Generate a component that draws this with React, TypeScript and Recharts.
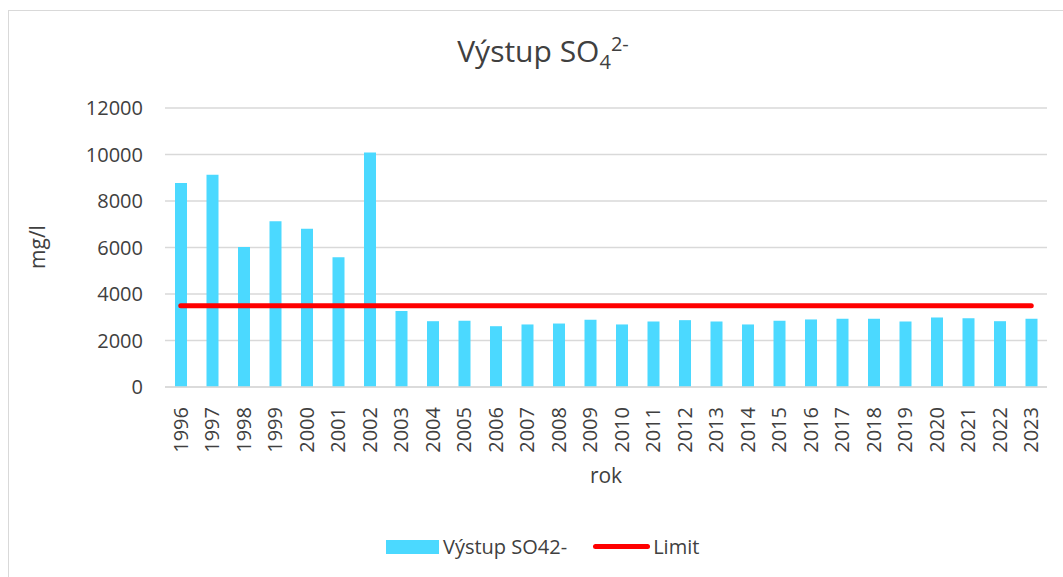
import React from 'react';
import { ComposedChart, Bar, Line, XAxis, YAxis, CartesianGrid } from 'recharts';

const years = ['1996','1997','1998','1999','2000','2001','2002','2003','2004','2005','2006','2007','2008','2009','2010','2011','2012','2013','2014','2015','2016','2017','2018','2019','2020','2021','2022','2023'];
const vystup = [8770, 9130, 6020, 7130, 6810, 5580, 10090, 3270, 2830, 2845, 2615, 2690, 2730, 2890, 2690, 2820, 2875, 2820, 2690, 2845, 2905, 2935, 2935, 2820, 2990, 2960, 2830, 2935];
const limitValue = 3500;
const yTicks = [0, 2000, 4000, 6000, 8000, 10000, 12000];

const data = years.map((y, i) => ({ rok: y, vystup: vystup[i], limit: limitValue }));

const FONT = '"Open Sans", "Noto Sans", sans-serif';
const TXT = '#404040';

const XTick = (props: any) => {
  const { x, y, payload } = props;
  return (
    <text x={x} y={y} transform={`rotate(-90, ${x}, ${y})`} textAnchor="end" dy="0.35em"
      fill={TXT} fontSize={20} fontFamily={FONT}>{payload.value}</text>
  );
};

export default function App() {
  return (
    <div style={{ position: 'fixed', left: 0, top: 0, width: 1063, height: 577, overflow: 'hidden', background: '#fff' }}>
      <div style={{ position: 'absolute', left: 8, top: 10, width: 1100, height: 600, border: '1.5px solid #d9d9d9', boxSizing: 'border-box' }} />
      <div style={{ position: 'absolute', left: 0, top: 0 }}>
        <ComposedChart width={1063} height={577} data={data}
          margin={{ top: 108, right: 16, bottom: 120, left: 85 }}>
          <CartesianGrid vertical={false} stroke="#d9d9d9" strokeWidth={1.5} />
          <XAxis dataKey="rok" interval={0} tickLine={false} axisLine={{ stroke: '#d9d9d9', strokeWidth: 1.5 }}
            height={70} tick={<XTick />} tickMargin={14} />
          <YAxis domain={[0, 12000]} ticks={yTicks} width={80} tickLine={false} axisLine={false} tickSize={0} tickMargin={22}
            tick={{ fill: TXT, fontSize: 20, fontFamily: FONT }} />
          <Bar dataKey="vystup" name="Výstup SO42-" fill="#4BD9FF" barSize={12} isAnimationActive={false} />
          <Line dataKey="limit" name="Limit" stroke="#FF0000" strokeWidth={5} strokeLinecap="round" dot={false} activeDot={false} isAnimationActive={false} />
        </ComposedChart>
      </div>
      <div style={{ position: 'absolute', left: 386, top: 533, display: 'flex', alignItems: 'center', fontFamily: FONT, fontSize: 20, color: TXT }}>
        <span style={{ display: 'inline-block', width: 53, height: 14, background: '#4BD9FF', marginRight: 4 }} />
        <span style={{ marginRight: 26 }}>Výstup SO42-</span>
        <span style={{ display: 'inline-block', width: 57, height: 5, borderRadius: 3, background: '#FF0000', marginRight: 3 }} />
        <span>Limit</span>
      </div>
      <div style={{ position: 'absolute', left: 0, width: 1063, top: 30, textAlign: 'center', fontFamily: FONT, fontSize: 30, color: TXT, paddingLeft: 23, boxSizing: 'border-box' }}>
        Výstup SO<sub style={{ fontSize: 20 }}>4</sub><sup style={{ fontSize: 20 }}>2-</sup>
      </div>
      <div style={{ position: 'absolute', left: 606, top: 475, transform: 'translate(-50%, -50%)', fontFamily: FONT, fontSize: 21, color: TXT }}>rok</div>
      <div style={{ position: 'absolute', left: 37, top: 247, transform: 'translate(-50%, -50%) rotate(-90deg)', fontFamily: FONT, fontSize: 21, color: TXT }}>mg/l</div>
    </div>
  );
}
